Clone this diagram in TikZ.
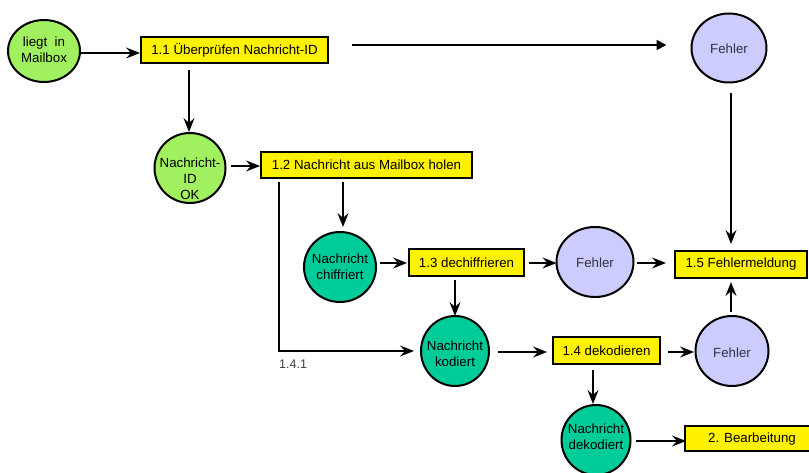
\documentclass[tikz,border=0pt]{standalone}
\usepackage{fontspec}
\setmainfont{Liberation Sans}
\usetikzlibrary{arrows.meta,calc,shapes.geometric}
\definecolor{lgreen}{RGB}{160,240,96}
\definecolor{dgreen}{RGB}{0,204,153}
\definecolor{lav}{RGB}{204,204,255}
\definecolor{ftxt}{RGB}{50,50,70}
\begin{document}
\begin{tikzpicture}[x=1pt,y=-1pt,
  box/.style={draw=black, line width=2pt, fill=yellow, inner sep=0pt,
    font=\fontsize{13.3}{15}\selectfont},
  circ/.style={ellipse, draw=black, line width=2pt, inner sep=0pt},
  txt/.style={font=\fontsize{13.3}{16}\selectfont, align=center, inner sep=0pt},
  arr/.style={line width=1.9pt, -{Stealth[length=14pt,width=11pt,inset=5pt]}},
  arrt/.style={line width=1.9pt, -{Triangle[length=10pt,width=10pt]}}]
\useasboundingbox (0,0) rectangle (809,473);
\clip (0,0) rectangle (809,473);

% boxes
\node[box, minimum width=187pt, minimum height=26pt] (b11) at (234.5,50) {1.1 Überprüfen Nachricht-ID};
\node[box, minimum width=211pt, minimum height=26pt] (b12) at (366.5,165) {1.2 Nachricht aus Mailbox holen};
\node[box, minimum width=115pt, minimum height=27pt] (b13) at (466.5,262.5) {1.3 dechiffrieren};
\node[box, minimum width=107pt, minimum height=27pt] (b14) at (606.5,350.5) {1.4 dekodieren};
\node[box, minimum width=132pt, minimum height=27pt] (b15) at (741,264.5) {1.5 Fehlermeldung};
\node[box, minimum width=135pt, minimum height=25pt] (b2) at (752.5,438.5) {};
\node[txt] (t2) at (752,439) {2. Bearbeitung};

% circles
\node[circ, fill=lgreen, minimum width=72pt, minimum height=62pt] (c0) at (44,51) {};
\node[txt] (tc0) at (44,49.5) {liegt\ \ in\\Mailbox};
\node[circ, fill=lgreen, minimum width=71pt, minimum height=70pt] (c1) at (190,168) {};
\node[txt] (tc1) at (190,179) {Nachricht-\\ID\\OK};
\node[circ, fill=lav, minimum width=75pt, minimum height=69pt] (f1) at (729,48) {};
\node[txt, text=ftxt] (tf1) at (729,49) {Fehler};
\node[circ, fill=dgreen, minimum width=72pt, minimum height=70pt] (nc) at (340,267) {};
\node[txt] (tnc) at (340,267) {Nachricht\\chiffriert};
\node[circ, fill=dgreen, minimum width=68pt, minimum height=70pt] (nk) at (455,351) {};
\node[txt] (tnk) at (455,354) {Nachricht\\kodiert};
\node[circ, fill=lav, minimum width=77pt, minimum height=70pt] (f2) at (595,262) {};
\node[txt, text=ftxt] (tf2) at (595,263) {Fehler};
\node[circ, fill=lav, minimum width=73pt, minimum height=70pt] (f3) at (732,351) {};
\node[txt, text=ftxt] (tf3) at (732,353) {Fehler};
\node[circ, fill=dgreen, minimum width=69pt, minimum height=70pt] (nd) at (596,440) {};
\node[txt] (tnd) at (596,437) {Nachricht\\dekodiert};

% connectors
\draw[arr] (c0.east |- 0,53) -- (b11.west |- 0,53);
\draw[arr] ($(c1.north |- b11.south)+(-1,6)$) -- ($(c1.north)+(-1,0)$);
\draw[arrt] ($(b11.east)+(23,-5)$) -- ($(f1.west)+(-24,-3)$);
\draw[arr] ($(f1.south)+(2,10)$) -- ($(b15.north)+(-10,-6)$);
\draw[arr] ($(c1.east)+(4,-2)$) -- (b12.west |- 0,166);
\coordinate (k1) at (279,351);
\node[font=\fontsize{12.5}{14}\selectfont, text=black!75, inner sep=0pt, anchor=west] (l141) at (279,364) {1.4.1};
\draw[arr] (b12.south -| k1) ++(0,3) -- (k1) -- ($(nk.west)+(-6,0)$);
\draw[arr] ($(b12.south -| nc.north)+(3,3)$) -- ($(nc.north)+(3,-4)$);
\draw[arr] ($(nc.east)+(3,-4)$) -- ($(b13.west)+(-1,0.5)$);
\draw[arr] ($(b13.south -| nk.north)+(0,3)$) -- ($(nk.north)+(0,1)$);
\draw[arr] ($(b13.east)+(4,0.5)$) -- ($(f2.west)+(1,1)$);
\draw[arr] ($(f2.east)+(2,1)$) -- ($(b15.west)+(-8,-1.5)$);
\draw[arr] ($(nk.east)+(8,1)$) -- ($(b14.west)+(-5,1.5)$);
\draw[arr] ($(b14.east)+(7,1.5)$) -- ($(f3.west)+(-0.5,1)$);
\draw[arr] ($(f3.north)+(-1,-3)$) -- ($(b15.south)+(-10,3)$);
\draw[arr] ($(b14.south -| nd.north)+(-3,5)$) -- ($(nd.north)+(-3,0)$);
\draw[arr] ($(nd.east)+(4,1)$) -- ($(b2.west)+(2,2.5)$);
\end{tikzpicture}
\end{document}
